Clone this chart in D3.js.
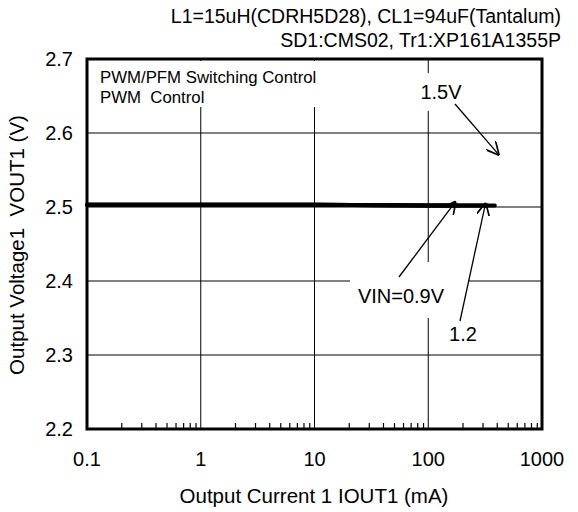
<!DOCTYPE html>
<html><head><meta charset="utf-8">
<script src="https://cdn.jsdelivr.net/npm/d3@7"></script>
<style>body{margin:0;background:#fff}svg{display:block}text{font-family:"Liberation Sans",Arial,sans-serif;fill:#000;white-space:pre}</style>
</head><body><svg id="c" width="578" height="512"></svg>
<script>
const xTicks = [0.1, 1, 10, 100, 1000];
const yTicks = [2.2, 2.3, 2.4, 2.5, 2.6, 2.7];
const seriesNames = ["VIN=0.9V", "1.2", "1.5V"];
const currents09 = [0.1, 1, 10, 100, 180];
const vout09 = [2.503, 2.503, 2.503, 2.502, 2.502];
const currents12 = [0.1, 1, 10, 100, 330];
const vout12 = [2.503, 2.503, 2.503, 2.502, 2.502];
const currents15 = [0.1, 1, 10, 100, 385];
const vout15 = [2.503, 2.503, 2.503, 2.502, 2.502];
const titleLines = ["L1=15uH(CDRH5D28), CL1=94uF(Tantalum)", "SD1:CMS02, Tr1:XP161A1355P"];
const noteLines = ["PWM/PFM Switching Control", "PWM  Control"];

const svg = d3.select("#c");
const L = 87, R = 542, T = 59, B = 429;
const x = d3.scaleLog().domain([0.1, 1000]).range([L, R]);
const y = d3.scaleLinear().domain([2.2, 2.7]).range([B, T]);

// grid
const g = svg.append("g");
g.selectAll("line.v").data(xTicks.slice(1, -1)).join("line")
  .attr("x1", d => x(d)).attr("x2", d => x(d)).attr("y1", T).attr("y2", B)
  .attr("stroke", "#000").attr("stroke-width", 1);
g.selectAll("line.h").data(yTicks.slice(1, -1)).join("line")
  .attr("x1", L).attr("x2", R).attr("y1", d => y(d)).attr("y2", d => y(d))
  .attr("stroke", "#000").attr("stroke-width", 1);

// minor ticks on bottom
const minor = [];
for (let dec = 0.1; dec < 1000; dec *= 10) for (let k = 2; k <= 9; k++) minor.push(dec * k);
const xAxis = d3.axisBottom(x).tickValues(minor).tickSizeInner(-6).tickSizeOuter(0).tickFormat("");
svg.append("g").attr("transform", `translate(0,${B})`).call(xAxis)
  .call(s => s.select(".domain").remove())
  .selectAll("line").attr("stroke", "#000").attr("stroke-width", 1.2);

// white boxes behind labels
svg.append("rect").attr("x", L + 2).attr("y", T + 2).attr("width", 250).attr("height", 46).attr("fill", "#fff");
svg.append("rect").attr("x", 420).attr("y", 73).attr("width", 48).attr("height", 38).attr("fill", "#fff");
svg.append("rect").attr("x", 350).attr("y", 262).attr("width", 119).attr("height", 56).attr("fill", "#fff");

// labels inside
svg.append("g").selectAll("text").data(noteLines).join("text")
  .attr("x", 100).attr("y", (d, i) => 83 + i * 20).attr("font-size", 16.8).text(d => d);

// data
const line = d3.line().x(d => x(d[0])).y(d => y(d[1]));
[[currents09, vout09], [currents12, vout12], [currents15, vout15]].forEach(([c, v]) => {
  svg.append("path").datum(c.map((d, i) => [d, v[i]])).attr("d", line)
    .attr("fill", "none").attr("stroke", "#000").attr("stroke-width", 4).attr("stroke-linecap", "round");
});

// frame
svg.append("rect").attr("x", L).attr("y", T).attr("width", R - L).attr("height", B - T)
  .attr("fill", "none").attr("stroke", "#000").attr("stroke-width", 3);

// tick labels
svg.append("g").selectAll("text").data(yTicks).join("text")
  .attr("x", 73).attr("y", d => y(d) + 7).attr("text-anchor", "end").attr("font-size", 20).text(d => d.toFixed(1));
svg.append("g").selectAll("text").data(xTicks).join("text")
  .attr("x", d => x(d)).attr("y", 466).attr("text-anchor", "middle").attr("font-size", 20).text(d => d);

// axis titles
svg.append("text").attr("x", 314).attr("y", 503).attr("text-anchor", "middle").attr("font-size", 20.5)
  .text("Output Current 1 IOUT1 (mA)");
svg.append("text").attr("transform", "translate(24,245) rotate(-90)").attr("text-anchor", "middle").attr("font-size", 20.5)
  .text("Output Voltage1  VOUT1 (V)");

// title
svg.append("g").selectAll("text").data(titleLines).join("text")
  .attr("x", 561).attr("y", (d, i) => 23 + i * 24).attr("text-anchor", "end").attr("font-size", 19.5).text(d => d);

// annotations
svg.append("defs").append("marker").attr("id", "ah").attr("viewBox", "0 0 10 10").attr("refX", 10).attr("refY", 5)
  .attr("markerWidth", 13).attr("markerHeight", 13).attr("markerUnits", "userSpaceOnUse").attr("orient", "auto")
  .append("path").attr("d", "M0,0 L10,5 L0,10").attr("fill", "none").attr("stroke", "#000").attr("stroke-width", 1.3);
const ann = [
  {label: seriesNames[2], tx: 441, ty: 99, x1: 455, y1: 104, c: 420, v: 2.57},
  {label: seriesNames[0], tx: 401, ty: 303, x1: 399, y1: 277, c: 175, v: 2.508},
  {label: seriesNames[1], tx: 463, ty: 341, x1: 460, y1: 321, c: 320, v: 2.506}
];
ann.forEach(a => {
  svg.append("line").attr("x1", a.x1).attr("y1", a.y1).attr("x2", x(a.c)).attr("y2", y(a.v))
    .attr("stroke", "#000").attr("stroke-width", 1.3).attr("marker-end", "url(#ah)");
  svg.append("text").attr("x", a.tx).attr("y", a.ty).attr("text-anchor", "middle").attr("font-size", 20).text(a.label);
});
</script></body></html>
